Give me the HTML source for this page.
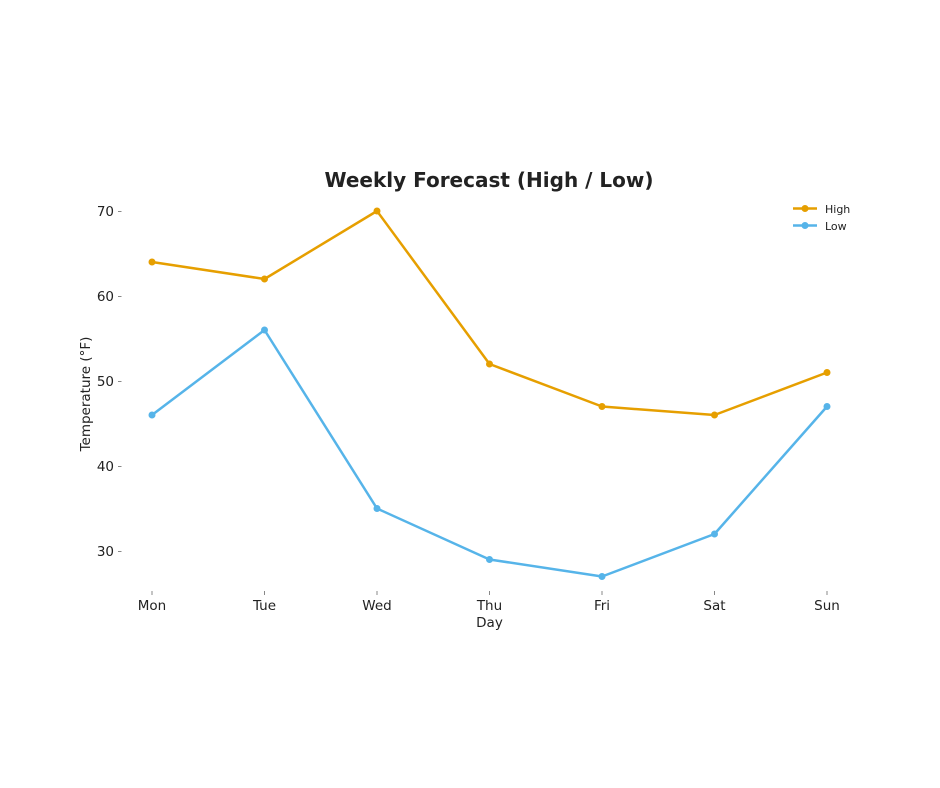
<!DOCTYPE html>
<html><head><meta charset="utf-8"><style>body{margin:0;background:#fff}svg{display:block}text{font-family:"DejaVu Sans","Liberation Sans",sans-serif;fill:#222}</style></head><body>
<svg width="940" height="788" viewBox="0 0 940 788" xmlns="http://www.w3.org/2000/svg">
<text x="489" y="187" font-size="20" font-weight="bold" text-anchor="middle" fill="#333">Weekly Forecast (High / Low)</text>
<g stroke="#888" stroke-width="1">
<line x1="118" y1="211.5" x2="121.5" y2="211.5"/><line x1="118" y1="296.5" x2="121.5" y2="296.5"/><line x1="118" y1="381.5" x2="121.5" y2="381.5"/><line x1="118" y1="466.5" x2="121.5" y2="466.5"/><line x1="118" y1="551.5" x2="121.5" y2="551.5"/>
<line x1="152" y1="591" x2="152" y2="595"/><line x1="264.5" y1="591" x2="264.5" y2="595"/><line x1="377" y1="591" x2="377" y2="595"/><line x1="489.5" y1="591" x2="489.5" y2="595"/><line x1="602" y1="591" x2="602" y2="595"/><line x1="714.5" y1="591" x2="714.5" y2="595"/><line x1="827" y1="591" x2="827" y2="595"/>
</g>
<g font-size="13.5" text-anchor="end">
<text x="114" y="216">70</text><text x="114" y="301">60</text><text x="114" y="386">50</text><text x="114" y="471">40</text><text x="114" y="556">30</text>
</g>
<g font-size="13.5" text-anchor="middle">
<text x="152" y="610">Mon</text><text x="264.5" y="610">Tue</text><text x="377" y="610">Wed</text><text x="489.5" y="610">Thu</text><text x="602" y="610">Fri</text><text x="714.5" y="610">Sat</text><text x="827" y="610">Sun</text>
<text x="489.5" y="627">Day</text>
<text transform="translate(90,394) rotate(-90)">Temperature (°F)</text>
</g>
<g fill="none" stroke-width="2.5" stroke-linejoin="round">
<polyline stroke="#e69f00" points="152,262 264.5,279 377,211 489.5,364 602,406.5 714.5,415 827,372.5"/>
<polyline stroke="#56b4e9" points="152,415 264.5,330 377,508.5 489.5,559.5 602,576.5 714.5,534 827,406.5"/>
</g>
<g fill="#e69f00"><circle cx="152" cy="262" r="3.5"/><circle cx="264.5" cy="279" r="3.5"/><circle cx="377" cy="211" r="3.5"/><circle cx="489.5" cy="364" r="3.5"/><circle cx="602" cy="406.5" r="3.5"/><circle cx="714.5" cy="415" r="3.5"/><circle cx="827" cy="372.5" r="3.5"/></g>
<g fill="#56b4e9"><circle cx="152" cy="415" r="3.5"/><circle cx="264.5" cy="330" r="3.5"/><circle cx="377" cy="508.5" r="3.5"/><circle cx="489.5" cy="559.5" r="3.5"/><circle cx="602" cy="576.5" r="3.5"/><circle cx="714.5" cy="534" r="3.5"/><circle cx="827" cy="406.5" r="3.5"/></g>
<line x1="793" y1="208.5" x2="817" y2="208.5" stroke="#e69f00" stroke-width="2.5"/><circle cx="805" cy="208.5" r="3.5" fill="#e69f00"/>
<line x1="793" y1="225.5" x2="817" y2="225.5" stroke="#56b4e9" stroke-width="2.5"/><circle cx="805" cy="225.5" r="3.5" fill="#56b4e9"/>
<text x="825" y="213" font-size="11" fill="#333">High</text>
<text x="825" y="230" font-size="11" fill="#333">Low</text>
</svg>
</body></html>
